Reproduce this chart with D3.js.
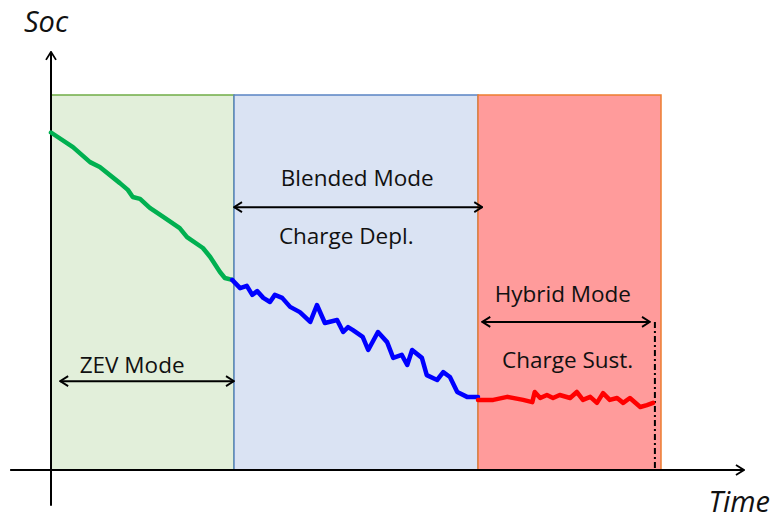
<!DOCTYPE html>
<meta charset="utf-8">
<script src="https://d3js.org/d3.v7.min.js"></script>
<style>
  body { margin: 0; background: #fff; }
  .lbl { font-family: "Open Sans", sans-serif; font-size: 22.5px; fill: #111; }
  .axlbl { font-family: "Open Sans", sans-serif; font-size: 29px; font-style: italic; fill: #111; }
</style>
<body>
<div id="chart"></div>
<script>
  // modes: start / end in time units (0..100), soc 0..100
  var modeNames = ["ZEV", "Blended", "Hybrid"];
  var modeStart = [0, 30, 70];
  var modeEnd   = [30, 70, 100];
  var modeFill   = ["#e2efda", "#dae3f3", "#ff9b9b"];
  var modeStroke = ["#70ad47", "#5a84c4", "#ed7d31"];

  // SOC traces
  var zevT   = [0, 3.6, 6.4, 8, 11.3, 12.6, 13.4, 14.6, 16.2, 18.4, 21.1, 22.3, 24.9, 26.1, 27.7, 28.5, 29.7];
  var zevSoc = [90, 86.1, 82.1, 80.8, 76.5, 74.7, 72.8, 72.3, 69.9, 67.5, 64.5, 62.1, 59.2, 56.8, 52.8, 51.2, 50.7];

  var blendT   = [29.7, 31, 32.1, 33, 33.8, 34.8, 35.9, 36.7, 37.9, 39.2, 40.8, 42.5, 43.6, 44.9, 46.9, 47.9, 48.7, 49.5,
                  51.1, 52, 53.6, 55.1, 56.1, 57.5, 58.4, 59.2, 60.8, 61.6, 63.3, 64.3, 65.4, 66.6, 68.2, 70];
  var blendSoc = [50.7, 48.5, 49.1, 46.7, 47.7, 45.9, 44.8, 46.7, 45.9, 43.5, 42.1, 39.5, 44, 39.2, 40, 36.8, 38.1, 37.3,
                  35.5, 32, 36.8, 34.1, 29.9, 30.7, 28, 32, 29.9, 25.3, 24, 26.1, 24.8, 20.8, 19.5, 19.5];

  var hybT   = [70, 72.5, 74.8, 77.4, 78.9, 79.3, 80.2, 81.3, 82.3, 83.4, 85.1, 86.2, 87.2, 88.4, 89.5, 90.5, 91.6,
                92.8, 93.8, 94.9, 96.6, 97.7, 98.7];
  var hybSoc = [18.7, 18.7, 19.5, 18.7, 18.1, 20.8, 19.2, 20, 19.2, 20, 19.2, 20.8, 18.7, 19.5, 17.9, 20.5, 18.7,
                19.2, 17.9, 19.2, 16.8, 17.3, 17.9];

  var traceColor = ["#00b050", "#0000ff", "#ff0000"];

  var width = 778, height = 520;

  var svg = d3.select("#chart")
    .append("svg")
      .attr("width", width)
      .attr("height", height);

  var x = d3.scaleLinear().domain([0, 100]).range([51, 661]);
  var y = d3.scaleLinear().domain([0, 100]).range([470, 95]);

  var defs = svg.append("defs");
  defs.append("marker")
      .attr("id", "head")
      .attr("viewBox", "0 0 10 12")
      .attr("refX", 9).attr("refY", 6)
      .attr("markerWidth", 10).attr("markerHeight", 12)
      .attr("markerUnits", "userSpaceOnUse")
      .attr("orient", "auto-start-reverse")
    .append("path")
      .attr("d", "M1,1 L9,6 L1,11")
      .attr("fill", "none")
      .attr("stroke", "#000")
      .attr("stroke-width", 1.8);

  // mode rectangles
  svg.append("g").selectAll("rect")
    .data(modeNames)
    .enter()
    .append("rect")
      .attr("x", function(d, i) { return x(modeStart[i]); })
      .attr("y", y(100))
      .attr("width", function(d, i) { return x(modeEnd[i]) - x(modeStart[i]); })
      .attr("height", y(0) - y(100))
      .attr("fill", function(d, i) { return modeFill[i]; })
      .attr("stroke", function(d, i) { return modeStroke[i]; })
      .attr("stroke-width", 1.5);

  // end of charge sustaining
  svg.append("line")
      .attr("x1", x(99)).attr("x2", x(99))
      .attr("y1", y(39.5)).attr("y2", y(0))
      .attr("stroke", "#000")
      .attr("stroke-width", 2)
      .attr("stroke-dasharray", "6,3,2,3");

  // axes
  svg.append("line")
      .attr("x1", x(0)).attr("x2", x(0))
      .attr("y1", y(-9.5)).attr("y2", y(111.5))
      .attr("stroke", "#000").attr("stroke-width", 2)
      .attr("marker-end", "url(#head)");
  svg.append("line")
      .attr("x1", x(-6.7)).attr("x2", x(113.6))
      .attr("y1", y(0)).attr("y2", y(0))
      .attr("stroke", "#000").attr("stroke-width", 2)
      .attr("marker-end", "url(#head)");

  // SOC trace
  var line = d3.line()
    .x(function(d) { return x(d[0]); })
    .y(function(d) { return y(d[1]); });

  var traces = [d3.zip(zevT, zevSoc), d3.zip(blendT, blendSoc), d3.zip(hybT, hybSoc)];
  svg.append("g").selectAll("path")
    .data(traces)
    .enter()
    .append("path")
      .attr("d", line)
      .attr("fill", "none")
      .attr("stroke", function(d, i) { return traceColor[i]; })
      .attr("stroke-width", 4.5)
      .attr("stroke-linejoin", "round")
      .attr("stroke-linecap", "round");

  // double arrows
  var arrowFrom = [1.5, 30, 70.7];
  var arrowTo   = [30, 70.7, 98.2];
  var arrowSoc  = [23.7, 70.1, 39.5];
  svg.append("g").selectAll("line")
    .data(modeNames)
    .enter()
    .append("line")
      .attr("x1", function(d, i) { return x(arrowFrom[i]); })
      .attr("x2", function(d, i) { return x(arrowTo[i]); })
      .attr("y1", function(d, i) { return y(arrowSoc[i]); })
      .attr("y2", function(d, i) { return y(arrowSoc[i]); })
      .attr("stroke", "#000").attr("stroke-width", 2)
      .attr("marker-start", "url(#head)")
      .attr("marker-end", "url(#head)");

  // labels
  var labelText = ["ZEV Mode", "Blended Mode", "Charge Depl.", "Hybrid Mode", "Charge Sust."];
  var labelT    = [13.3, 50.2, 48.4, 83.9, 84.7];
  var labelSoc  = [25.9, 75.7, 60.3, 44.8, 27.2];
  svg.append("g").selectAll("text")
    .data(labelText)
    .enter()
    .append("text")
      .attr("class", "lbl")
      .attr("text-anchor", "middle")
      .attr("x", function(d, i) { return x(labelT[i]); })
      .attr("y", function(d, i) { return y(labelSoc[i]); })
      .text(function(d) { return d; });

  svg.append("text").attr("class", "axlbl")
      .attr("x", 24).attr("y", 32).text("Soc");
  svg.append("text").attr("class", "axlbl")
      .attr("x", 770).attr("y", 512).attr("text-anchor", "end").text("Time");
</script>
</body>
</html>
